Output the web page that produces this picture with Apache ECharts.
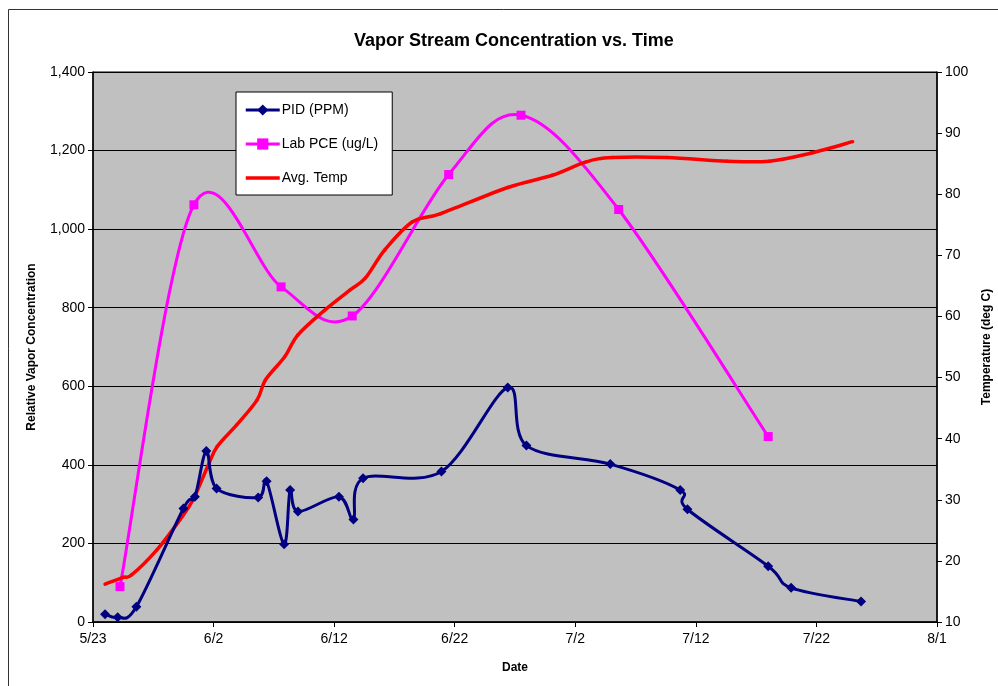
<!DOCTYPE html>
<html>
<head>
<meta charset="utf-8">
<script src="https://cdn.jsdelivr.net/npm/echarts@6/dist/echarts.min.js"></script>
<style>
    html, body { margin: 0; padding: 0; background: #fff; overflow: hidden; }
    #chart { width: 998px; height: 686px; }
</style>
</head>
<body>
<div id="chart"></div>
<script>
// x values are days after 5/23
const pidDays = [1.0, 2.05, 3.6, 7.5, 8.45, 9.4, 10.25, 13.7, 14.4, 15.85, 16.35, 17.0, 20.4, 21.6, 22.4, 28.9, 34.4, 35.95, 42.9, 48.7, 49.3, 56.0, 57.9, 63.7];
const pidValues = [20, 12, 39, 289, 319, 435, 340, 317, 358, 198, 336, 281, 319, 261, 366, 383, 597, 449, 402, 336, 287, 142, 87, 52];

const pceDays = [2.24, 8.37, 15.6, 21.5, 29.5, 35.5, 43.6, 56.0];
const pceValues = [90, 1062, 853, 779, 1139, 1290, 1050, 472];

const tempDays = [1.0, 2.5, 3.2, 5.3, 7.2, 8.3, 9.5, 10.3, 11.9, 13.6, 14.3, 15.9, 17.0, 19.2, 21.3, 22.6, 24.2, 26.5, 28.8, 34.4, 38.1, 40.9, 43.1, 47.6, 52.6, 56.1, 59.5, 63.0];
const tempValues = [16.2, 17.3, 17.7, 21.8, 26.7, 30.0, 35.4, 38.7, 42.2, 46.3, 49.6, 53.4, 57.0, 61.0, 64.3, 66.3, 70.9, 75.5, 76.8, 81.1, 83.1, 85.3, 86.0, 86.0, 85.4, 85.4, 86.7, 88.6];

const startDate = new Date(2008, 4, 23);

function dayLabel(d) {
    let dt = new Date(startDate.getTime());
    dt.setDate(dt.getDate() + Math.round(d));
    return (dt.getMonth() + 1) + '/' + dt.getDate();
}

function pairs(xs, ys) {
    return xs.map((x, i) => [x, ys[i]]);
}

// spreadsheet style smoothed line (catmull-rom through every point)
function smoothCurve(xs, ys, color, width) {
    return function (params, api) {
        if (params.dataIndex !== 0) return;
        let pts = xs.map((x, i) => api.coord([x, ys[i]]));
        let segs = [];
        for (let i = 0; i < pts.length - 1; i++) {
            let p0 = pts[i - 1] || pts[i];
            let p1 = pts[i];
            let p2 = pts[i + 1];
            let p3 = pts[i + 2] || pts[i + 1];
            segs.push({
                type: 'bezierCurve',
                shape: {
                    x1: p1[0], y1: p1[1],
                    x2: p2[0], y2: p2[1],
                    cpx1: p1[0] + (p2[0] - p0[0]) / 6,
                    cpy1: p1[1] + (p2[1] - p0[1]) / 6,
                    cpx2: p2[0] - (p3[0] - p1[0]) / 6,
                    cpy2: p2[1] - (p3[1] - p1[1]) / 6
                },
                style: { stroke: color, lineWidth: width, fill: null, lineJoin: 'round', lineCap: 'round' }
            });
        }
        return { type: 'group', children: segs };
    };
}

const font = 'Liberation Sans, Arial, sans-serif';

let option = {
    animation: false,
    backgroundColor: '#ffffff',
    textStyle: { fontFamily: font },
    title: {
        text: 'Vapor Stream Concentration vs. Time',
        left: 349,
        top: 27,
        textStyle: { fontFamily: font, fontSize: 18, fontWeight: 'bold', color: '#000' }
    },
    legend: {
        orient: 'vertical',
        left: 236,
        top: 92,
        backgroundColor: '#ffffff',
        borderColor: '#000',
        borderWidth: 1,
        borderRadius: 0,
        padding: [11, 14, 10, 8],
        itemGap: 20,
        itemWidth: 34,
        itemHeight: 14,
        textStyle: { fontFamily: font, fontSize: 14, color: '#000', padding: [0, 0, 0, -3] },
        data: [
            { name: 'PID (PPM)', lineStyle: { opacity: 1, width: 3, color: '#000080' } },
            { name: 'Lab PCE (ug/L)', lineStyle: { opacity: 1, width: 3, color: '#ff00ff' } },
            { name: 'Avg. Temp', lineStyle: { opacity: 1, width: 3.5, color: '#ff0000' }, itemStyle: { opacity: 0 } }
        ]
    },
    graphic: [{
        type: 'rect',
        shape: { x: 8.5, y: 9.5, width: 1100, height: 800 },
        style: { fill: 'none', stroke: '#333', lineWidth: 1 },
        silent: true
    }],
    grid: {
        left: 93,
        right: 61,
        top: 72,
        bottom: 64,
        outerBoundsMode: 'none',
        containLabel: false,
        show: true,
        backgroundColor: '#c0c0c0',
        borderColor: '#000',
        borderWidth: 1
    },
    xAxis: {
        type: 'value',
        min: 0,
        max: 70,
        interval: 10,
        name: 'Date',
        nameLocation: 'middle',
        nameGap: 40,
        nameTextStyle: { fontFamily: font, fontSize: 12, fontWeight: 'bold', color: '#000' },
        axisLine: { lineStyle: { color: '#000', width: 1.5 } },
        axisTick: { show: true, length: 5, lineStyle: { color: '#000' } },
        axisLabel: { fontFamily: font, fontSize: 14, color: '#000', margin: 10, formatter: dayLabel },
        splitLine: { show: false }
    },
    yAxis: [
        {
            type: 'value',
            min: 0,
            max: 1400,
            interval: 200,
            name: 'Relative Vapor Concentration',
            nameLocation: 'middle',
            nameGap: 55,
            nameTextStyle: { fontFamily: font, fontSize: 12, fontWeight: 'bold', color: '#000' },
            axisLine: { show: true, lineStyle: { color: '#000', width: 1.5 } },
            axisTick: { show: true, length: 5, lineStyle: { color: '#000' } },
            axisLabel: {
                fontFamily: font, fontSize: 14, color: '#000', margin: 8,
                formatter: v => v.toLocaleString('en-US')
            },
            splitLine: { show: true, lineStyle: { color: '#000', width: 1 } }
        },
        {
            type: 'value',
            min: 10,
            max: 100,
            interval: 10,
            name: 'Temperature (deg C)',
            nameLocation: 'middle',
            nameGap: 44,
            nameTextStyle: { fontFamily: font, fontSize: 12, fontWeight: 'bold', color: '#000' },
            axisLine: { show: true, lineStyle: { color: '#000', width: 1.5 } },
            axisTick: { show: true, length: 5, lineStyle: { color: '#000' } },
            axisLabel: { fontFamily: font, fontSize: 14, color: '#000', margin: 8 },
            splitLine: { show: false }
        }
    ],
    series: [
        {
            name: 'PID (PPM)',
            type: 'line',
            yAxisIndex: 0,
            data: pairs(pidDays, pidValues),
            symbol: 'diamond',
            symbolSize: 10,
            color: '#000080',
            lineStyle: { opacity: 0 },
            itemStyle: { color: '#000080' },
            z: 6
        },
        {
            name: 'Lab PCE (ug/L)',
            type: 'line',
            yAxisIndex: 0,
            data: pairs(pceDays, pceValues),
            symbol: 'rect',
            symbolSize: 9,
            color: '#ff00ff',
            lineStyle: { opacity: 0 },
            itemStyle: { color: '#ff00ff' },
            z: 5
        },
        {
            name: 'Avg. Temp',
            type: 'line',
            yAxisIndex: 1,
            data: pairs(tempDays, tempValues),
            symbol: 'none',
            color: '#ff0000',
            lineStyle: { opacity: 0 },
            z: 4
        },
        {
            name: 'pidCurve',
            type: 'custom',
            yAxisIndex: 0,
            silent: true,
            data: pairs(pidDays, pidValues),
            renderItem: smoothCurve(pidDays, pidValues, '#000080', 3),
            z: 3
        },
        {
            name: 'pceCurve',
            type: 'custom',
            yAxisIndex: 0,
            silent: true,
            data: pairs(pceDays, pceValues),
            renderItem: smoothCurve(pceDays, pceValues, '#ff00ff', 3),
            z: 2
        },
        {
            name: 'tempCurve',
            type: 'custom',
            yAxisIndex: 1,
            silent: true,
            data: pairs(tempDays, tempValues),
            renderItem: smoothCurve(tempDays, tempValues, '#ff0000', 3.5),
            z: 2
        }
    ]
};

let myChart = echarts.init(document.getElementById('chart'));
myChart.setOption(option);
</script>
</body>
</html>
